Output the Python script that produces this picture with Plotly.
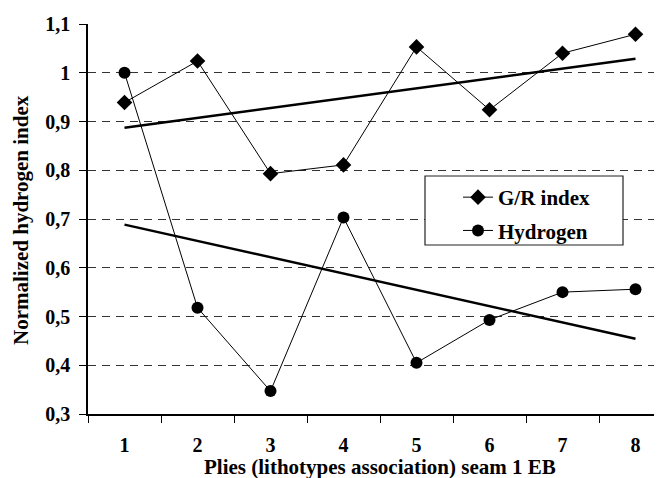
import numpy as np
import plotly.graph_objects as go

plies = [1, 2, 3, 4, 5, 6, 7, 8]
gr_index = [0.939, 1.024, 0.793, 0.811, 1.053, 0.924, 1.040, 1.079]
hydrogen = [1.000, 0.518, 0.347, 0.703, 0.405, 0.493, 0.550, 0.556]
y_ticks = [0.3, 0.4, 0.5, 0.6, 0.7, 0.8, 0.9, 1.0, 1.1]
y_tick_labels = ["0,3", "0,4", "0,5", "0,6", "0,7", "0,8", "0,9", "1", "1,1"]
x_labels = [str(p) for p in plies]
x_title = "Plies (lithotypes association) seam 1 EB"
y_title = "Normalized hydrogen index"

FONT = "Liberation Serif"
W, H = 662, 478
OFF = 8                     # page body margin: figure origin sits at (8, 8) in the window
L, T, B = 88, 24, 414       # plot area in window pixels
CAT_PX = 73                 # pixels per category
PW = W - (L - OFF)          # plot runs to the figure's right edge (clipped by window)
PH = B - T
x_hi = -0.5 + PW / CAT_PX

def px_x(p):
    return (p - L) / PW

def px_y(p):
    return (B - p) / PH

def trend(x, y):
    k, b = np.polyfit(x, y, 1)
    xs = [x[0], x[-1]]
    return xs, [k * v + b for v in xs]

fig = go.Figure()

for series in (gr_index, hydrogen):
    tx, ty = trend(plies, series)
    fig.add_trace(go.Scatter(x=[str(v) for v in tx], y=ty, mode="lines",
                             line=dict(color="black", width=2.5),
                             showlegend=False, hoverinfo="skip"))

fig.add_trace(go.Scatter(x=x_labels, y=gr_index, mode="lines+markers", name="G/R index",
                         line=dict(color="black", width=1),
                         marker=dict(symbol="diamond", size=12, color="black"),
                         legendgroup="a"))
fig.add_trace(go.Scatter(x=x_labels, y=hydrogen, mode="lines+markers", name="Hydrogen",
                         line=dict(color="black", width=1),
                         marker=dict(symbol="circle", size=12, color="black"),
                         legendgroup="b"))

# legend frame
fig.add_shape(type="rect", xref="paper", yref="paper",
              x0=px_x(425), x1=px_x(623), y0=px_y(245), y1=px_y(176),
              line=dict(color="#222", width=1.2), fillcolor="white", layer="above")

fig.add_annotation(text=x_title, xref="paper", yref="paper",
                   x=px_x(380), y=px_y(467), xanchor="center", yanchor="middle",
                   showarrow=False, font=dict(family=FONT, size=21, weight="bold"))
fig.add_annotation(text=y_title, xref="paper", yref="paper", textangle=-90,
                   x=px_x(21), y=px_y(220), xanchor="center", yanchor="middle",
                   showarrow=False, font=dict(family=FONT, size=21, weight="bold"))

fig.update_layout(
    width=W, height=H,
    margin=dict(l=L - OFF, r=0, t=T - OFF, b=H - (B - OFF)),
    paper_bgcolor="white", plot_bgcolor="white",
    font=dict(family=FONT, size=20, color="black", weight="bold"),
    showlegend=True,
    legend=dict(x=px_x(458), y=px_y(177), xanchor="left", yanchor="top",
                bgcolor="rgba(0,0,0,0)", borderwidth=0,
                font=dict(family=FONT, size=21, color="black", weight="bold"),
                traceorder="grouped", tracegroupgap=3),
    xaxis=dict(type="category", categoryorder="array", categoryarray=x_labels,
               range=[-0.5, x_hi], showgrid=False, automargin=False,
               showline=True, linecolor="black", linewidth=1.5,
               ticks="outside", tickson="boundaries", ticklen=7, tickcolor="black", tickwidth=1.2,
               ticklabelstandoff=12),
    yaxis=dict(range=[0.3, 1.1], tickvals=y_ticks, ticktext=y_tick_labels, automargin=False,
               showgrid=True, gridcolor="#333", gridwidth=1, griddash="8px,6px",
               zeroline=False,
               showline=True, linecolor="black", linewidth=1.5,
               ticks="outside", ticklen=7, tickcolor="black", tickwidth=1.2,
               ticklabelstandoff=5),
)

fig.write_html("out.html")
